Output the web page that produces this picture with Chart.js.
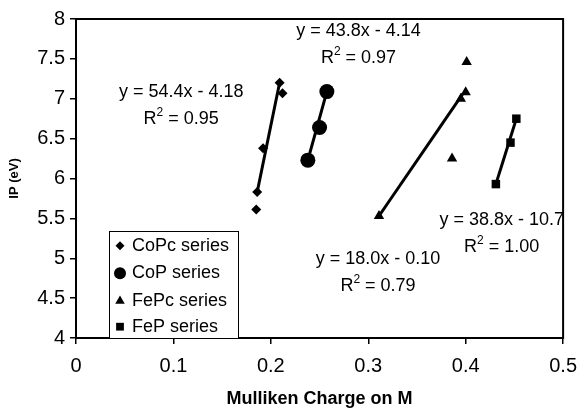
<!DOCTYPE html>
<html>
<head>
<meta charset="utf-8">
<script src="https://cdn.jsdelivr.net/npm/chart.js@4.4.1/dist/chart.umd.min.js"></script>
<style>
  html, body { margin: 0; padding: 0; background: #fff; }
  #wrap { width: 587px; height: 408px; }
</style>
</head>
<body>
<div id="wrap"><canvas id="chart"></canvas></div>
<script>
// measured points, Mulliken charge vs IP (eV)
const copcX = [0.185, 0.186, 0.192, 0.209, 0.212];
const copcY = [5.61, 5.83, 6.38, 7.20, 7.07];
const copX = [0.238, 0.250, 0.2575];
const copY = [6.23, 6.64, 7.09];
const fepcX = [0.311, 0.386, 0.395, 0.400, 0.401];
const fepcY = [5.53, 6.25, 7.00, 7.08, 7.46];
const fepX = [0.431, 0.446, 0.452];
const fepY = [5.93, 6.45, 6.75];

// trendline end points as they appear on the plot
const copcTrendX = [0.186, 0.209];
const copcTrendY = [5.83, 7.20];
const copTrendX = [0.238, 0.2575];
const copTrendY = [6.23, 7.09];
const fepcTrendX = [0.311, 0.397];
const fepcTrendY = [5.53, 7.06];
const fepTrendX = [0.431, 0.452];
const fepTrendY = [5.93, 6.75];

const xTicks = [0, 0.1, 0.2, 0.3, 0.4, 0.5];
const yTicks = [4, 4.5, 5, 5.5, 6, 6.5, 7, 7.5, 8];

const equations = [
  { eq: 'y = 54.4x - 4.18', r2: '0.95', x: 0.108, y: 7.09 },
  { eq: 'y = 43.8x - 4.14', r2: '0.97', x: 0.290, y: 7.85 },
  { eq: 'y = 18.0x - 0.10', r2: '0.79', x: 0.310, y: 4.99 },
  { eq: 'y = 38.8x - 10.7', r2: '1.00', x: 0.437, y: 5.48 },
];

const FONT = '"Liberation Sans", Arial, sans-serif';

const toPoints = (xs, ys) => xs.map((x, i) => ({ x, y: ys[i] }));

const markerSet = (label, xs, ys, style, radius) => ({
  type: 'scatter',
  label,
  data: toPoints(xs, ys),
  pointStyle: style,
  pointRadius: radius,
  pointHoverRadius: radius,
  backgroundColor: '#000',
  borderColor: '#000',
  borderWidth: 0,
  showLine: false,
  order: 1,
});

const trendSet = (xs, ys) => ({
  type: 'line',
  label: '',
  data: toPoints(xs, ys),
  borderColor: '#000',
  borderWidth: 3,
  pointRadius: 0,
  fill: false,
  order: 2,
  isTrend: true,
});

const frame = {
  id: 'frame',
  afterDatasetsDraw(chart) {
    const { ctx, chartArea: a } = chart;
    ctx.save();
    ctx.strokeStyle = '#000';
    ctx.lineWidth = 2;
    ctx.strokeRect(a.left, a.top, a.right - a.left, a.bottom - a.top);
    ctx.restore();
  },
};

const eqLabels = {
  id: 'eqLabels',
  afterDatasetsDraw(chart) {
    const { ctx, scales } = chart;
    ctx.save();
    ctx.fillStyle = '#000';
    ctx.textBaseline = 'middle';
    equations.forEach((e) => {
      const cx = scales.x.getPixelForValue(e.x);
      const cy = scales.y.getPixelForValue(e.y);
      ctx.font = `18px ${FONT}`;
      ctx.textAlign = 'center';
      ctx.fillText(e.eq, cx, cy);
      // R² line
      const rest = ` = ${e.r2}`;
      const wR = ctx.measureText('R').width;
      const wRest = ctx.measureText(rest).width;
      ctx.font = `12px ${FONT}`;
      const wSup = ctx.measureText('2').width;
      const total = wR + wSup + wRest;
      let px = cx - total / 2;
      const py = cy + 27;
      ctx.textAlign = 'left';
      ctx.font = `18px ${FONT}`;
      ctx.fillText('R', px, py);
      px += wR;
      ctx.font = `12px ${FONT}`;
      ctx.fillText('2', px, py - 6);
      px += wSup;
      ctx.font = `18px ${FONT}`;
      ctx.fillText(rest, px, py);
    });
    ctx.restore();
  },
};

const boxLegend = {
  id: 'boxLegend',
  afterDraw(chart) {
    const { ctx, chartArea: a } = chart;
    const left = a.left + 33;
    const top = a.top + 212;
    const width = 129;
    const rows = [14.7, 42.3, 70, 95.7];
    const marks = [
      { style: 'rectRot', radius: 4.5 },
      { style: 'circle', radius: 6 },
      { style: 'triangle', radius: 5.5 },
      { style: 'rect', radius: 5.5 },
    ];
    ctx.save();
    ctx.fillStyle = '#fff';
    ctx.fillRect(left, top, width, a.bottom - top);
    ctx.strokeStyle = '#000';
    ctx.lineWidth = 1;
    ctx.strokeRect(left + 0.5, top + 0.5, width, a.bottom - top);
    const labels = chart.data.datasets.filter((d) => !d.isTrend).map((d) => d.label);
    labels.forEach((label, i) => {
      const y = top + rows[i];
      ctx.fillStyle = '#000';
      ctx.strokeStyle = '#000';
      Chart.helpers.drawPoint(ctx, { pointStyle: marks[i].style, radius: marks[i].radius, rotation: 0, borderWidth: 0 }, left + 11, y);
      ctx.font = `18px ${FONT}`;
      ctx.textAlign = 'left';
      ctx.textBaseline = 'middle';
      ctx.fillText(label, left + 23, y);
    });
    ctx.restore();
  },
};

new Chart(document.getElementById('chart'), {
  data: {
    datasets: [
      markerSet('CoPc series', copcX, copcY, 'rectRot', 5),
      markerSet('CoP series', copX, copY, 'circle', 7.5),
      markerSet('FePc series', fepcX, fepcY, 'triangle', 6),
      markerSet('FeP series', fepX, fepY, 'rect', 6),
      trendSet(copcTrendX, copcTrendY),
      trendSet(copTrendX, copTrendY),
      trendSet(fepcTrendX, fepcTrendY),
      trendSet(fepTrendX, fepTrendY),
    ],
  },
  options: {
    responsive: true,
    maintainAspectRatio: false,
    animation: false,
    layout: { padding: { top: 19, right: 21, bottom: 0, left: 0 } },
    plugins: {
      legend: { display: false },
      tooltip: { enabled: false },
    },
    scales: {
      x: {
        type: 'linear',
        min: 0,
        max: 0.5,
        afterBuildTicks: (scale) => { scale.ticks = xTicks.map((v) => ({ value: v })); },
        afterFit: (scale) => { scale.height = 70; },
        ticks: {
          color: '#000',
          font: { family: FONT, size: 20 },
          padding: 10,
          maxRotation: 0,
          callback: (v) => String(v),
        },
        grid: { drawOnChartArea: false, drawTicks: true, tickLength: 6, color: '#000', lineWidth: 1.5 },
        border: { color: '#000', width: 2 },
        title: {
          display: true,
          text: 'Mulliken Charge on M',
          color: '#000',
          font: { family: FONT, size: 18, weight: 'bold' },
          padding: { top: 0, bottom: -2 },
        },
      },
      y: {
        type: 'linear',
        min: 4,
        max: 8,
        afterBuildTicks: (scale) => { scale.ticks = yTicks.map((v) => ({ value: v })); },
        afterFit: (scale) => { scale.width = 76; },
        ticks: {
          color: '#000',
          font: { family: FONT, size: 20 },
          padding: 5,
          callback: (v) => String(v),
        },
        grid: { drawOnChartArea: false, drawTicks: true, tickLength: 6, color: '#000', lineWidth: 1.5 },
        border: { color: '#000', width: 2 },
        title: {
          display: true,
          text: 'IP (eV)',
          color: '#000',
          font: { family: FONT, size: 13, weight: 'bold' },
          padding: { top: 7, bottom: 0 },
        },
      },
    },
  },
  plugins: [frame, eqLabels, boxLegend],
});
</script>
</body>
</html>
